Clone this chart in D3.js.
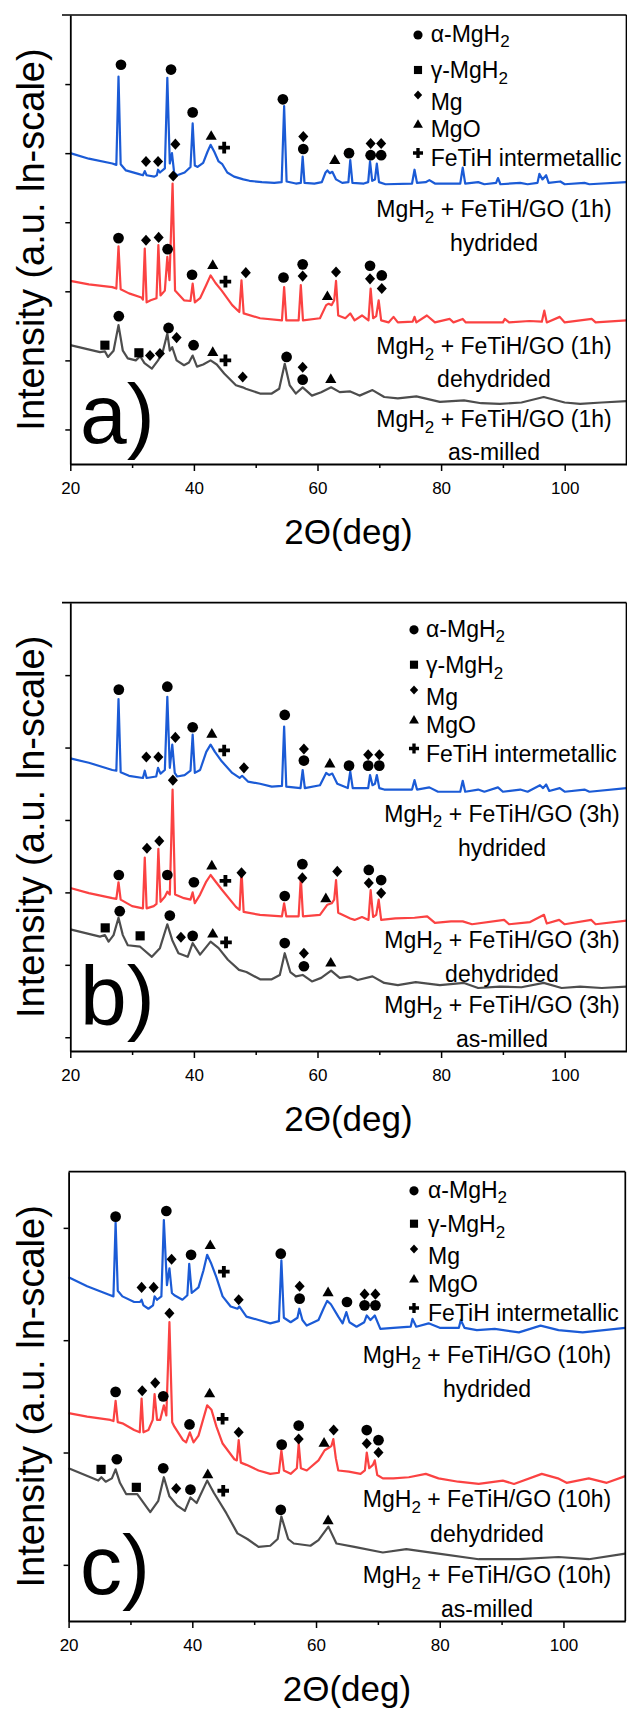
<!DOCTYPE html>
<html>
<head>
<meta charset="utf-8">
<script src="https://cdn.jsdelivr.net/npm/d3@7"></script>
<style>
  body { margin: 0; background: #fff; }
  svg { display: block; }
  text { font-family: "Liberation Sans", Arial, Helvetica, sans-serif; fill: #000; }
</style>
</head>
<body>
<svg id="chart" width="627" height="1711"></svg>
<script>
'use strict';

// ---- axis / label data ----
var xDomain = [20, 110];
var xTicks = [20, 40, 60, 80, 100];
var xMinorTicks = [30, 50, 70, 90];
var millTimes = ["1h", "3h", "10h"];
var states = ["hydrided", "dehydrided", "as-milled"];
var legendNames = ["α-MgH2", "γ-MgH2", "Mg", "MgO", "FeTiH intermetallic"];
var legendPhases = ["a", "g", "Mg", "MgO", "Fe"];

// ---- XRD patterns, [2theta, intensity (ln, a.u.)] ----
// (a) 1h milling
var blueA = [[20,4.00],[23,3.92],[26.8,3.85],[27.45,3.83],[27.8,5.11],[28.15,3.84],[29,3.75],[31,3.70],[31.75,3.68],[32.05,3.74],[32.35,3.68],[33.6,3.66],[34.0,3.68],[34.2,3.76],[34.5,3.72],[35.3,3.78],[35.7,5.09],[36.1,3.85],[36.45,4.00],[36.8,3.72],[37.3,3.68],[38.5,3.72],[39.45,3.80],[39.8,4.43],[40.15,3.82],[40.6,3.80],[41.5,3.86],[42.2,4.02],[42.7,4.12],[43.3,4.02],[44.0,3.88],[44.6,3.84],[45.4,3.72],[46.5,3.66],[48.0,3.62],[49.0,3.60],[51.0,3.58],[53.0,3.57],[54.2,3.58],[54.6,4.68],[55.0,3.59],[56.5,3.56],[57.3,3.57],[57.6,3.95],[57.9,3.57],[59.5,3.56],[60.7,3.58],[61.3,3.72],[61.6,3.75],[62.0,3.71],[62.4,3.73],[63.0,3.62],[64.0,3.57],[65.0,3.58],[65.3,3.90],[65.65,3.57],[67.5,3.56],[68.2,3.58],[68.5,3.88],[68.85,3.60],[69.3,3.62],[69.6,3.85],[69.95,3.58],[71,3.55],[75.3,3.56],[75.7,3.76],[76.1,3.57],[77.5,3.58],[78.1,3.61],[79,3.56],[83.1,3.56],[83.5,3.79],[83.9,3.56],[86,3.58],[87,3.55],[88.9,3.57],[89.2,3.64],[89.6,3.55],[92.8,3.57],[94,3.55],[95.6,3.57],[95.9,3.70],[96.4,3.62],[97.0,3.68],[97.4,3.57],[99.3,3.59],[100,3.55],[103.2,3.57],[104,3.55],[110,3.58]];
var redA = [[20,2.15],[23,2.10],[26.8,2.06],[27.45,2.04],[27.8,2.65],[28.15,2.03],[29.5,1.97],[31.5,1.91],[31.75,1.88],[32.05,2.62],[32.35,1.84],[33.0,1.87],[33.95,1.90],[34.25,2.67],[34.6,1.94],[35.3,2.01],[35.7,2.50],[36.05,2.16],[36.55,3.56],[36.95,2.01],[38.4,1.87],[39.45,1.86],[39.8,2.11],[40.15,1.84],[41.0,1.90],[42.0,2.09],[42.7,2.23],[43.5,2.12],[44.5,2.01],[46.2,1.80],[47.35,1.70],[47.7,2.16],[48.05,1.68],[50.7,1.61],[54.25,1.58],[54.6,2.06],[54.95,1.58],[56.95,1.58],[57.3,2.09],[57.65,1.58],[60.4,1.61],[61.4,1.80],[61.8,1.82],[62.3,1.80],[62.7,1.87],[63.0,2.15],[63.35,1.65],[64.5,1.61],[65.3,1.68],[66.0,1.58],[67.2,1.65],[68.25,1.58],[68.6,2.04],[69.0,1.61],[69.5,1.64],[69.9,1.87],[70.3,1.58],[71.5,1.55],[72.3,1.63],[73,1.55],[75.4,1.56],[75.7,1.63],[76,1.55],[77.7,1.65],[79,1.55],[81.4,1.60],[82,1.55],[83.5,1.60],[84,1.55],[90,1.55],[90.3,1.60],[91,1.55],[94.3,1.57],[96.3,1.56],[96.7,1.72],[97.1,1.55],[99.2,1.63],[100,1.55],[104.4,1.60],[105,1.55],[110,1.58]];
var grayA = [[20,1.22],[24.8,1.12],[25.6,1.13],[26.1,1.05],[27.0,1.14],[27.8,1.51],[28.5,1.14],[29.3,1.03],[30.6,1.00],[31.3,1.06],[32.0,0.96],[33.2,0.88],[34.2,1.00],[35.0,1.14],[35.7,1.39],[36.1,1.14],[36.5,1.19],[37.2,1.00],[38.4,0.93],[39.2,0.97],[39.8,1.07],[40.5,0.91],[41.5,0.94],[42.7,1.00],[43.7,0.94],[44.9,0.81],[46.8,0.64],[47.9,0.61],[48.4,0.59],[50.7,0.52],[52.6,0.52],[53.8,0.59],[54.7,0.95],[55.5,0.64],[56.5,0.52],[57.6,0.61],[59.1,0.49],[60.6,0.54],[62.2,0.61],[63.6,0.54],[65.3,0.55],[66.8,0.49],[68.9,0.57],[70.8,0.47],[73,0.45],[76,0.48],[79.8,0.40],[83.7,0.42],[86.5,0.38],[89.5,0.37],[93,0.39],[96.6,0.47],[100,0.39],[102.5,0.37],[106,0.39],[110,0.41]];

// (b) 3h milling
var blueB = [[20,3.85],[23,3.79],[26.8,3.69],[27.45,3.68],[27.8,4.67],[28.15,3.66],[29.5,3.61],[31.75,3.58],[32.05,3.68],[32.35,3.58],[33.9,3.60],[34.2,3.72],[34.6,3.64],[35.3,3.69],[35.7,4.70],[36.1,3.72],[36.5,4.04],[36.9,3.65],[37.3,3.60],[38.5,3.62],[39.45,3.68],[39.8,4.18],[40.15,3.65],[41.0,3.69],[42.0,3.94],[42.7,4.04],[43.4,3.94],[44.5,3.81],[46.2,3.65],[47.4,3.58],[47.8,3.61],[48.75,3.53],[50.7,3.50],[52.6,3.46],[54.25,3.47],[54.6,4.29],[54.95,3.46],[57.25,3.44],[57.6,3.69],[57.95,3.44],[60.4,3.48],[61.4,3.65],[61.9,3.62],[62.4,3.64],[63.2,3.50],[64.9,3.44],[65.3,3.67],[65.7,3.44],[68.2,3.44],[68.5,3.62],[68.9,3.48],[69.3,3.50],[69.6,3.62],[70.0,3.44],[70.8,3.42],[75.3,3.42],[75.7,3.55],[76.1,3.42],[78.1,3.45],[79.5,3.39],[83.1,3.39],[83.5,3.54],[83.9,3.39],[86,3.42],[87,3.39],[89.2,3.45],[90,3.39],[92.8,3.42],[94,3.39],[96.0,3.48],[96.5,3.44],[97.0,3.49],[97.5,3.40],[99.2,3.44],[100,3.39],[103.2,3.42],[104,3.39],[110,3.44]];
var redB = [[20,2.06],[23,1.99],[26.8,1.92],[27.45,1.91],[27.8,2.14],[28.15,1.90],[30,1.81],[31.75,1.78],[32.05,2.48],[32.35,1.78],[33.5,1.81],[33.95,1.84],[34.25,2.60],[34.6,1.87],[35.3,1.94],[35.7,2.01],[36.1,1.97],[36.55,3.42],[36.95,1.97],[38.4,1.92],[39.45,1.90],[39.8,2.00],[40.15,1.85],[41.0,1.97],[42.0,2.15],[42.7,2.24],[43.5,2.15],[44.5,2.04],[46.8,1.80],[47.4,1.76],[47.7,2.31],[48.05,1.73],[50.7,1.69],[54.25,1.67],[54.6,1.85],[54.95,1.67],[56.95,1.67],[57.3,2.20],[57.65,1.67],[60.4,1.69],[61.6,1.83],[62.3,1.85],[62.7,1.90],[63.0,2.17],[63.35,1.72],[65.3,1.64],[66,1.62],[67.2,1.66],[68.25,1.62],[68.6,2.03],[69.0,1.66],[69.5,1.69],[69.9,1.90],[70.3,1.62],[72.6,1.64],[75.7,1.65],[77.75,1.67],[79,1.58],[81.6,1.60],[83.5,1.60],[85,1.56],[90.2,1.62],[91,1.56],[94.4,1.59],[96.65,1.69],[97.1,1.57],[99.1,1.62],[100,1.56],[104.3,1.62],[105,1.56],[110,1.61]];
var grayB = [[20,1.49],[24.8,1.39],[25.6,1.41],[26.2,1.32],[27.0,1.41],[27.8,1.65],[28.5,1.41],[29.3,1.27],[31.3,1.25],[33.2,1.11],[34.5,1.23],[35.7,1.56],[36.5,1.34],[37.5,1.16],[39.0,1.11],[39.8,1.30],[41.0,1.14],[42.7,1.32],[44.0,1.23],[45.5,1.07],[47.3,0.93],[48.5,0.90],[50.7,0.80],[52.6,0.80],[53.9,0.86],[54.7,1.16],[55.6,0.90],[56.5,0.84],[57.6,0.86],[59.1,0.77],[60.6,0.82],[62.2,0.92],[63.6,0.82],[65.3,0.84],[66.5,0.79],[68.9,0.84],[70.8,0.75],[73,0.72],[75.9,0.76],[79.8,0.72],[83.7,0.75],[86,0.68],[89.5,0.70],[93,0.69],[96.6,0.75],[99.5,0.68],[102.5,0.70],[106,0.68],[110,0.70]];

// (c) 10h milling
var blueC = [[20,2.56],[23,2.48],[26.75,2.40],[27.25,2.39],[27.6,3.05],[27.95,2.44],[28.7,2.39],[30.6,2.34],[31.55,2.34],[31.8,2.36],[32.1,2.31],[32.9,2.28],[33.65,2.31],[33.9,2.39],[34.3,2.36],[35.0,2.39],[35.4,3.07],[35.9,2.49],[36.3,2.64],[36.7,2.42],[37.1,2.40],[38.4,2.36],[39.2,2.40],[39.5,2.68],[39.9,2.42],[41.0,2.47],[41.8,2.62],[42.4,2.76],[43.0,2.69],[43.9,2.56],[44.9,2.39],[46.2,2.30],[47.3,2.28],[47.6,2.30],[48.75,2.21],[50.7,2.18],[52.6,2.15],[54.0,2.17],[54.4,2.71],[54.8,2.20],[55.9,2.16],[57.0,2.20],[57.3,2.28],[57.8,2.18],[58.5,2.13],[60.4,2.18],[61.2,2.28],[61.8,2.35],[62.4,2.32],[63.6,2.21],[64.3,2.15],[64.9,2.25],[65.4,2.16],[66.55,2.12],[67.8,2.16],[68.2,2.22],[68.8,2.18],[69.5,2.22],[70.4,2.10],[72.5,2.11],[75.3,2.12],[75.6,2.19],[76.2,2.12],[78.2,2.15],[80,2.11],[83.1,2.11],[83.4,2.18],[84,2.11],[86,2.09],[88.9,2.10],[92.8,2.07],[96.3,2.13],[99.2,2.09],[103.1,2.07],[110,2.11]];
var redC = [[20,1.35],[23,1.32],[26.75,1.29],[27.25,1.28],[27.6,1.46],[27.95,1.27],[28.7,1.26],[30.6,1.20],[31.5,1.18],[31.8,1.48],[32.1,1.18],[32.9,1.20],[33.6,1.29],[33.9,1.52],[34.3,1.29],[34.8,1.29],[35.4,1.42],[35.8,1.33],[36.3,2.16],[36.75,1.27],[37.1,1.23],[38.5,1.11],[39.0,1.09],[39.6,1.18],[40.2,1.09],[41.0,1.15],[42.4,1.42],[43.1,1.38],[43.9,1.23],[44.9,1.08],[46.8,0.94],[47.2,0.93],[47.5,1.11],[47.85,0.91],[48.75,0.89],[50.7,0.84],[52.6,0.81],[54.0,0.82],[54.4,1.02],[54.8,0.84],[55.9,0.81],[56.9,0.86],[57.2,1.08],[57.55,0.86],[58.5,0.84],[60.4,0.93],[61.4,1.02],[62.0,1.04],[62.5,1.06],[62.8,1.12],[63.2,0.95],[63.6,0.84],[65.3,0.83],[67.2,0.81],[67.9,0.84],[68.2,1.00],[68.6,0.86],[69.2,0.89],[69.5,0.93],[69.9,0.80],[70.8,0.77],[72.5,0.77],[75.0,0.78],[77.75,0.81],[79.8,0.77],[83,0.74],[86.3,0.72],[90.2,0.75],[92,0.72],[96.5,0.81],[99.1,0.77],[100.5,0.73],[104.1,0.77],[107,0.73],[110,0.79]];
var grayC = [[20,0.86],[24.8,0.75],[25.3,0.78],[26.0,0.74],[27.0,0.77],[27.6,0.85],[28.3,0.73],[29.3,0.63],[31.1,0.63],[33.2,0.47],[34.5,0.57],[35.4,0.78],[36.3,0.61],[37.5,0.53],[38.8,0.48],[39.7,0.60],[40.7,0.55],[42.4,0.75],[43.5,0.64],[45.5,0.46],[47.3,0.28],[48.9,0.23],[50.7,0.16],[52.6,0.17],[53.8,0.23],[54.4,0.43],[55.5,0.23],[56.4,0.19],[59.1,0.17],[60.4,0.22],[62.0,0.34],[63.3,0.19],[66.2,0.16],[70.8,0.11],[74.6,0.14],[79.8,0.10],[86.3,0.05],[92.8,0.05],[99.2,0.07],[104.1,0.05],[110,0.10]];

// ---- phase markers, [phase, 2theta, intensity] ----
var marksBlueA = [["a",28.2,5.28],["a",36.3,5.21],["a",39.8,4.59],["MgO",42.8,4.24],["Fe",44.9,4.08],["Mg",32.25,3.88],["Mg",34.2,3.88],["Mg",37.0,4.13],["a",54.4,4.78],["Mg",57.7,4.24],["a",57.7,4.06],["MgO",62.8,3.89],["a",65.1,4.0],["Mg",68.6,4.14],["Mg",70.3,4.14],["a",68.6,3.97],["a",70.3,3.97]];
var marksRedA = [["a",27.8,2.77],["Mg",32.25,2.74],["Mg",34.3,2.78],["a",35.75,2.61],["Mg",36.65,3.67],["a",39.7,2.24],["MgO",43.05,2.37],["Fe",45.1,2.14],["Mg",48.4,2.27],["a",54.5,2.20],["a",57.6,2.39],["Mg",57.6,2.22],["Mg",63.0,2.28],["MgO",61.6,1.92],["a",68.5,2.37],["Mg",68.5,2.18],["a",70.4,2.23],["Mg",70.4,2.04]];
var marksGrayA = [["g",25.6,1.22],["a",27.85,1.64],["g",31.1,1.11],["Mg",32.9,1.07],["Mg",34.5,1.10],["a",35.9,1.47],["Mg",37.2,1.33],["a",39.95,1.22],["MgO",43.05,1.11],["Fe",45.1,1.00],["Mg",47.9,0.76],["a",55.0,1.05],["Mg",57.6,0.90],["a",57.6,0.72],["MgO",62.15,0.72]];

var marksBlueB = [["a",27.85,4.80],["a",35.7,4.84],["a",39.8,4.28],["MgO",42.9,4.18],["Fe",44.9,3.96],["Mg",32.3,3.87],["Mg",34.25,3.87],["Mg",37.0,4.14],["Mg",48.1,3.72],["a",54.7,4.45],["Mg",57.8,3.98],["a",57.8,3.82],["MgO",62.0,3.77],["a",65.1,3.75],["Mg",68.2,3.90],["Mg",70.0,3.90],["a",68.2,3.75],["a",70.0,3.75]];
var marksRedB = [["Mg",36.6,3.55],["a",27.85,2.24],["Mg",32.4,2.61],["Mg",34.4,2.71],["a",35.7,2.24],["a",40.0,2.14],["MgO",42.9,2.36],["Fe",45.1,2.16],["Mg",47.7,2.27],["a",54.7,1.95],["a",57.55,2.39],["Mg",57.55,2.20],["MgO",61.35,1.91],["Mg",63.2,2.29],["a",68.3,2.31],["Mg",68.3,2.13],["a",70.3,2.17],["Mg",70.3,1.99]];
var marksGrayB = [["g",25.65,1.51],["a",28.0,1.74],["g",31.3,1.40],["a",36.1,1.68],["Mg",37.9,1.38],["a",39.8,1.40],["MgO",43.05,1.42],["Fe",45.2,1.31],["a",54.7,1.30],["Mg",57.8,1.16],["a",57.8,0.98],["MgO",62.15,1.02]];

var marksBlueC = [["a",27.6,3.10],["a",35.8,3.15],["Mg",31.8,2.47],["Mg",33.75,2.47],["Mg",36.65,2.72],["a",39.8,2.76],["MgO",42.9,2.84],["Fe",45.1,2.61],["Mg",47.5,2.36],["a",54.3,2.77],["Mg",57.35,2.48],["a",57.35,2.37],["MgO",61.95,2.42],["a",65.0,2.34],["Mg",67.85,2.41],["Mg",69.6,2.41],["a",67.85,2.31],["a",69.6,2.31]];
var marksRedC = [["Mg",36.3,2.24],["a",27.6,1.54],["Mg",31.9,1.55],["Mg",34.0,1.62],["a",35.3,1.50],["a",39.55,1.25],["MgO",42.8,1.52],["Fe",44.9,1.30],["Mg",47.5,1.18],["a",54.45,1.07],["a",57.2,1.24],["Mg",57.2,1.12],["MgO",61.3,1.08],["Mg",62.85,1.20],["a",68.2,1.20],["Mg",68.2,1.08],["a",70.1,1.11],["Mg",70.1,1.00]];
var marksGrayC = [["g",25.25,0.85],["a",27.8,0.94],["g",30.95,0.69],["a",35.3,0.86],["Mg",37.4,0.68],["a",39.7,0.67],["MgO",42.5,0.80],["Fe",45.0,0.66],["a",54.3,0.49],["MgO",61.95,0.39]];

// ---- styling ----
var seriesColors = ["#1b5bd6", "#fb4242", "#4d4d4d"];
var FONT_LABEL = 23;

// rhombus used for the Mg reflections
var symbolRhomb = {
  draw: function(ctx, size) {
    var r = Math.sqrt(size / 2);
    ctx.moveTo(0, -r * 1.05);
    ctx.lineTo(r * 0.95, 0);
    ctx.lineTo(0, r * 1.05);
    ctx.lineTo(-r * 0.95, 0);
    ctx.closePath();
  }
};
var symbolTypes = { a: d3.symbolCircle, g: d3.symbolSquare, Mg: symbolRhomb, MgO: d3.symbolTriangle, Fe: d3.symbolCross };
var markSizes = { a: 90, g: 84, Mg: 56, MgO: 54, Fe: 74 };
var legendSizes = { a: 66, g: 66, Mg: 38, MgO: 42, Fe: 56 };
// symbol offset above the legend text baseline
var legendLift = { a: 6.7, g: 8.3, Mg: 15, MgO: 12.3, Fe: 13 };

// panel layout (pixels)
var panels = [
  { letter: "a", top: 15, bottom: 464, left: 70.3, right: 626.5, frameLeft: 62,
    yDomain: [-0.5, 6], yTicks: [0, 1, 2, 3, 4, 5],
    series: [blueA, redA, grayA], marks: [marksBlueA, marksRedA, marksGrayA],
    labelX: 494, labelBase: [217.3, 250.7, 354, 387.3, 427.3, 460],
    legendX: 430.7, legendSymX: 418, legendBase: [41.7, 78.3, 110, 137.3, 166],
    letterBase: 443 },
  { letter: "b", top: 602.7, bottom: 1051, left: 70.3, right: 626.5, frameLeft: 62,
    yDomain: [-0.19, 6], yTicks: [0, 1, 2, 3, 4, 5],
    series: [blueB, redB, grayB], marks: [marksBlueB, marksRedB, marksGrayB],
    labelX: 502, labelBase: [821.7, 855.5, 948, 981.7, 1013, 1046.7],
    legendX: 426, legendSymX: 414, legendBase: [636.5, 673, 705, 733, 761.5],
    letterBase: 1025 },
  { letter: "c", top: 1171.7, bottom: 1621, left: 68.6, right: 625.3, frameLeft: 68.6,
    yDomain: [-0.5, 3.5], yTicks: [0, 1, 2, 3],
    series: [blueC, redC, grayC], marks: [marksBlueC, marksRedC, marksGrayC],
    labelX: 487, labelBase: [1363.3, 1396.7, 1507.3, 1541.7, 1583.3, 1617],
    legendX: 428, legendSymX: 414, legendBase: [1197.5, 1232, 1264, 1292, 1321],
    letterBase: 1594 }
];

var svg = d3.select("#chart");

// writes a string into a <text>, setting the "2" of MgH2 as a subscript
function addFormula(text, str) {
  var parts = str.split("MgH2");
  var shift = 0;
  parts.forEach(function(part, i) {
    if (i > 0) {
      text.append("tspan").attr("dy", shift).text("MgH");
      text.append("tspan").attr("dy", 5.5).attr("font-size", 17).text("2");
      shift = -5.5;
    }
    if (part) {
      text.append("tspan").attr("dy", shift).text(part);
      shift = 0;
    }
  });
}

function drawPanel(p, idx) {
  var g = svg.append("g").attr("class", "panel");
  var x = d3.scaleLinear().domain(xDomain).range([p.left, p.right]);
  var y = d3.scaleLinear().domain(p.yDomain).range([p.bottom, p.top]);

  var line = d3.line().x(function(d) { return x(d[0]); }).y(function(d) { return y(d[1]); });

  p.series.forEach(function(s, i) {
    g.append("path")
      .datum(s)
      .attr("d", line)
      .attr("fill", "none")
      .attr("stroke", seriesColors[i])
      .attr("stroke-width", 2.2)
      .attr("stroke-linejoin", "round");
  });

  // phase markers over the reflections
  p.marks.forEach(function(list) {
    g.selectAll(null)
      .data(list)
      .enter().append("path")
      .attr("d", function(d) { return d3.symbol().type(symbolTypes[d[0]]).size(markSizes[d[0]])(); })
      .attr("transform", function(d) { return "translate(" + x(d[1]) + "," + y(d[2]) + ")"; })
      .attr("fill", "#000");
  });

  // frame (top + right)
  g.append("line")
    .attr("x1", p.frameLeft).attr("x2", p.right)
    .attr("y1", p.top).attr("y2", p.top)
    .attr("stroke", "#000").attr("stroke-width", 1.7);
  g.append("line")
    .attr("x1", p.right).attr("x2", p.right)
    .attr("y1", p.top).attr("y2", p.bottom)
    .attr("stroke", "#000").attr("stroke-width", 1.7);

  // x axis
  var xAxis = d3.axisBottom(x).tickValues(xTicks).tickSize(7).tickSizeOuter(0).tickPadding(10.5);
  var gx = g.append("g").attr("transform", "translate(0," + p.bottom + ")").call(xAxis);
  gx.select(".domain").attr("stroke-width", 1.8);
  gx.selectAll(".tick line").attr("stroke-width", 1.5);
  gx.selectAll(".tick text")
    .attr("font-size", 17)
    .attr("font-family", '"Liberation Sans", Arial, sans-serif');

  var gxm = g.append("g").attr("transform", "translate(0," + p.bottom + ")")
    .call(d3.axisBottom(x).tickValues(xMinorTicks).tickSize(4).tickFormat(function() { return ""; }));
  gxm.select(".domain").remove();
  gxm.selectAll(".tick line").attr("stroke-width", 1.5);

  // y axis (unlabelled ticks)
  var gy = g.append("g").attr("transform", "translate(" + p.left + ",0)")
    .call(d3.axisLeft(y).tickValues(p.yTicks).tickSize(5).tickSizeOuter(0).tickFormat(function() { return ""; }));
  gy.select(".domain").attr("stroke-width", 1.8);
  gy.selectAll(".tick line").attr("stroke-width", 1.5);

  // axis titles
  g.append("text")
    .attr("x", (p.left + p.right) / 2)
    .attr("y", p.bottom + 80)
    .attr("text-anchor", "middle")
    .attr("font-size", 35)
    .text("2Θ(deg)");

  g.append("text")
    .attr("transform", "translate(44," + ((p.top + p.bottom) / 2) + ") rotate(-90)")
    .attr("text-anchor", "middle")
    .attr("font-size", 38)
    .text("Intensity (a.u. ln-scale)");

  // panel letter
  g.append("text")
    .attr("x", 80)
    .attr("y", p.letterBase)
    .attr("font-size", 84)
    .text(p.letter + ")");

  // sample labels under each pattern
  states.forEach(function(st, i) {
    var t = g.append("text")
      .attr("x", p.labelX)
      .attr("y", p.labelBase[2 * i])
      .attr("text-anchor", "middle")
      .attr("font-size", FONT_LABEL);
    addFormula(t, "MgH2 + FeTiH/GO (" + millTimes[idx] + ")");
    g.append("text")
      .attr("x", p.labelX)
      .attr("y", p.labelBase[2 * i + 1])
      .attr("text-anchor", "middle")
      .attr("font-size", FONT_LABEL)
      .text(st);
  });

  // phase legend
  legendNames.forEach(function(name, i) {
    var ph = legendPhases[i];
    var base = p.legendBase[i];
    g.append("path")
      .attr("d", d3.symbol().type(symbolTypes[ph]).size(legendSizes[ph])())
      .attr("transform", "translate(" + p.legendSymX + "," + (base - legendLift[ph]) + ")")
      .attr("fill", "#000");
    var t = g.append("text")
      .attr("x", p.legendX)
      .attr("y", base)
      .attr("font-size", FONT_LABEL);
    addFormula(t, name);
  });
}

panels.forEach(drawPanel);
</script>
</body>
</html>
